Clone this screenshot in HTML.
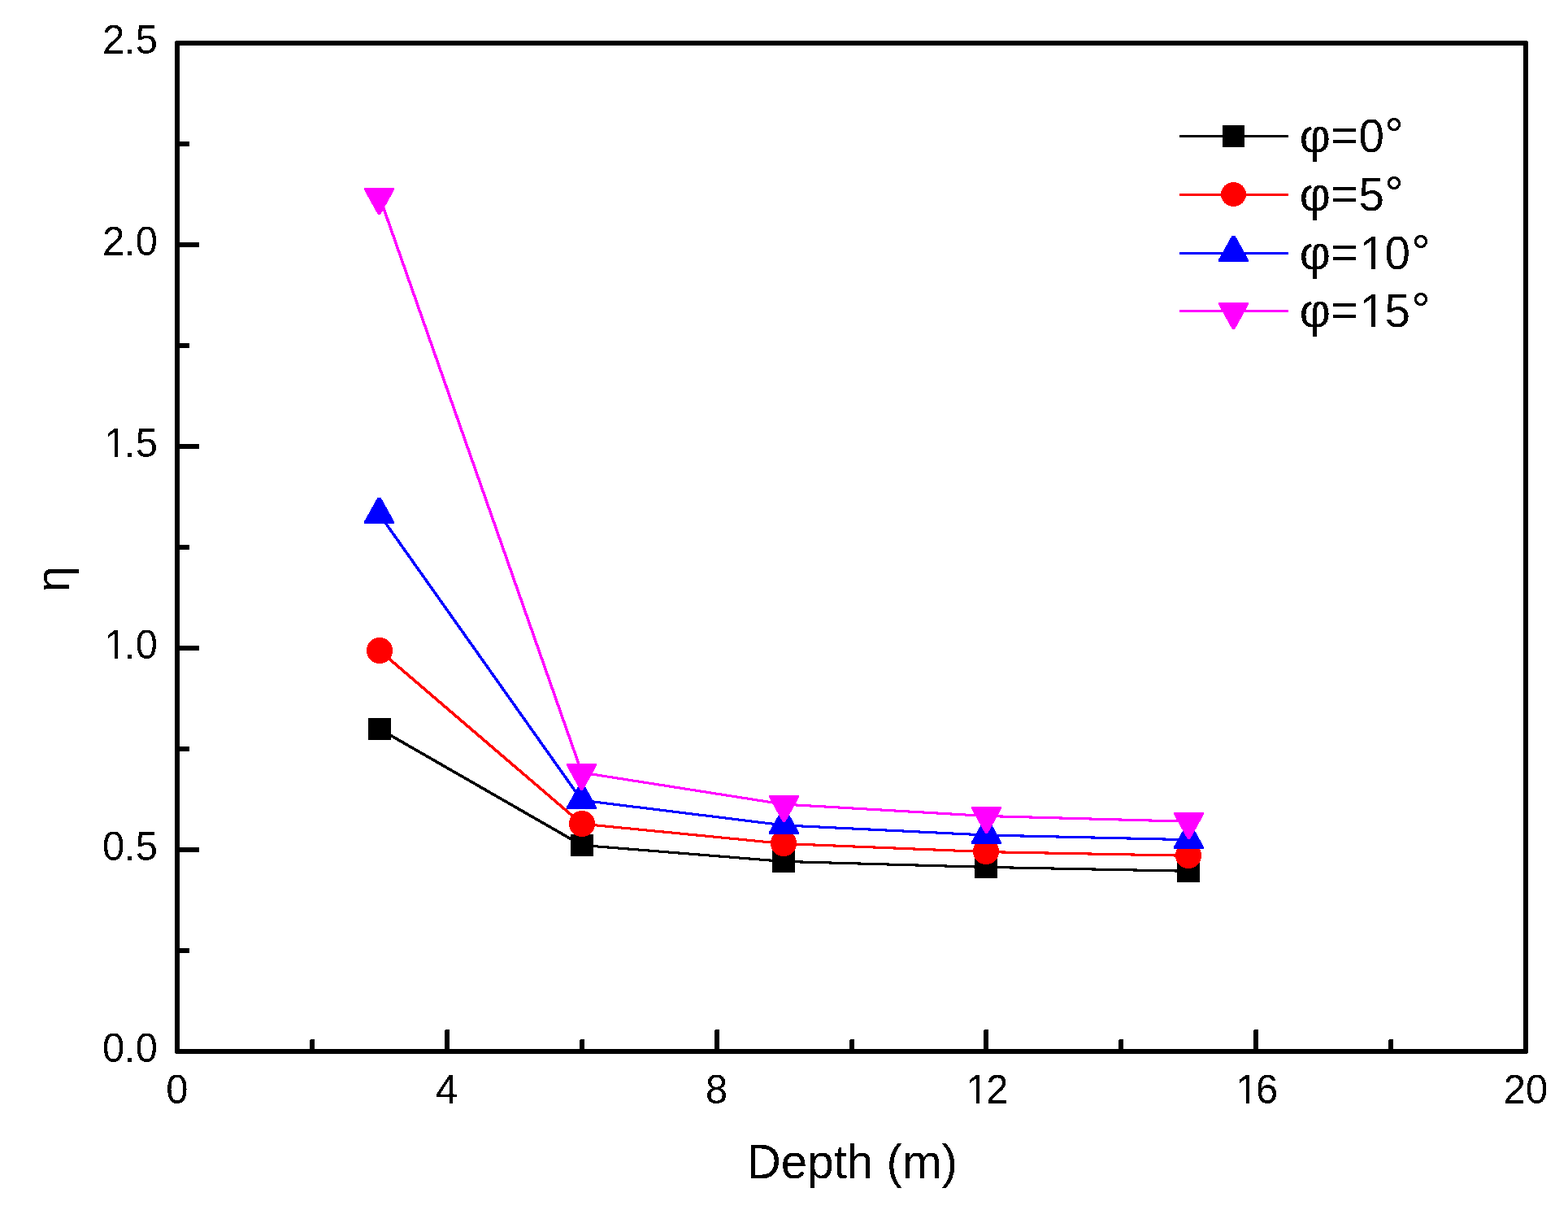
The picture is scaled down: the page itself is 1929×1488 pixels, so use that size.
<!DOCTYPE html>
<html lang="en">
<head>
<meta charset="utf-8">
<title>η versus Depth (m)</title>
<style>
html,body{margin:0;padding:0;background:#ffffff;}
body{width:1929px;height:1488px;overflow:hidden;}
svg{display:block;}
text{font-family:"Liberation Sans",Arial,Helvetica,sans-serif;fill:#000000;}
.tick{font-size:48.9px;}
.title{font-size:58.3px;}
</style>
</head>
<body>
<svg width="1929" height="1488" viewBox="0 0 1929 1488" shape-rendering="crispEdges">
<defs>
<filter id="px" x="-5%" y="-5%" width="110%" height="110%" color-interpolation-filters="sRGB">
<feComponentTransfer><feFuncA type="discrete" tableValues="0 1"/></feComponentTransfer>
</filter>
</defs>
<rect x="0" y="0" width="1929" height="1488" fill="#ffffff"/>
<!-- axes frame -->
<rect x="218.0" y="53.0" width="1659.0" height="1240.0" fill="none" stroke="#000000" stroke-width="6" stroke-linejoin="miter"/>
<g fill="#ffffff"><rect x="215" y="50" width="1" height="1"/><rect x="1879" y="50" width="1" height="1"/><rect x="215" y="1295" width="1" height="1"/><rect x="1879" y="1295" width="1" height="1"/></g>
<!-- tick marks -->
<g fill="#000000">
<polygon points="381,1293.0 381,1279 382,1278 386,1278 387,1279 387,1293.0"/>
<polygon points="547,1293.0 547,1267 548,1266 552,1266 553,1267 553,1293.0"/>
<polygon points="713,1293.0 713,1279 714,1278 718,1278 719,1279 719,1293.0"/>
<polygon points="879,1293.0 879,1267 880,1266 884,1266 885,1267 885,1293.0"/>
<polygon points="1045,1293.0 1045,1279 1046,1278 1050,1278 1051,1279 1051,1293.0"/>
<polygon points="1210,1293.0 1210,1267 1211,1266 1215,1266 1216,1267 1216,1293.0"/>
<polygon points="1376,1293.0 1376,1279 1377,1278 1381,1278 1382,1279 1382,1293.0"/>
<polygon points="1542,1293.0 1542,1267 1543,1266 1547,1266 1548,1267 1548,1293.0"/>
<polygon points="1708,1293.0 1708,1279 1709,1278 1713,1278 1714,1279 1714,1293.0"/>
<polygon points="218.0,1166 232,1166 233,1167 233,1171 232,1172 218.0,1172"/>
<polygon points="218.0,1042 244,1042 245,1043 245,1047 244,1048 218.0,1048"/>
<polygon points="218.0,918 232,918 233,919 233,923 232,924 218.0,924"/>
<polygon points="218.0,794 244,794 245,795 245,799 244,800 218.0,800"/>
<polygon points="218.0,670 232,670 233,671 233,675 232,676 218.0,676"/>
<polygon points="218.0,546 244,546 245,547 245,551 244,552 218.0,552"/>
<polygon points="218.0,422 232,422 233,423 233,427 232,428 218.0,428"/>
<polygon points="218.0,298 244,298 245,299 245,303 244,304 218.0,304"/>
<polygon points="218.0,174 232,174 233,175 233,179 232,180 218.0,180"/>
</g>
<!-- x tick labels -->
<g class="tick" filter="url(#px)">
<text transform="translate(204.3,1357) scale(1,1.04)" x="0">0</text>
<text transform="translate(536.1,1357) scale(1,1.04)" x="0">4</text>
<text transform="translate(867.9,1357) scale(1,1.04)" x="0">8</text>
<text transform="translate(1188.5,1357) scale(1,1.04)" x="0 24.8">12</text>
<text transform="translate(1520.3,1357) scale(1,1.04)" x="0 24.8">16</text>
<text transform="translate(1849.7,1357) scale(1,1.04)" x="0 27.2">20</text>
</g>
<!-- y tick labels -->
<g class="tick" filter="url(#px)">
<text transform="translate(126.02,1305.7) scale(1,1.04)" x="0 26.6 40.78">0.0</text>
<text transform="translate(126.02,1057.7) scale(1,1.04)" x="0 26.6 40.78">0.5</text>
<text transform="translate(128.42,809.7) scale(1,1.04)" x="0 24.2 38.38">1.0</text>
<text transform="translate(128.42,561.7) scale(1,1.04)" x="0 24.2 38.38">1.5</text>
<text transform="translate(126.02,313.7) scale(1,1.04)" x="0 26.6 40.78">2.0</text>
<text transform="translate(126.02,65.7) scale(1,1.04)" x="0 26.6 40.78">2.5</text>
</g>
<!-- axis titles -->
<g filter="url(#px)">
<text class="title" text-anchor="middle" x="1048.3" y="1448.7">Depth (m)</text>
<text class="title" text-anchor="middle" transform="translate(85,712) rotate(-90) scale(0.98,1.02)">η</text>
</g>
<!-- data series -->
<line x1="466.9" y1="896.5" x2="715.7" y2="1039.4" stroke="#000000" stroke-width="3.5" stroke-linecap="round"/>
<polyline points="715.7,1039.4 964.4,1059.4 1213.3,1066.4 1462.2,1071.3" fill="none" stroke="#000000" stroke-width="3.1" stroke-linejoin="round" stroke-linecap="round"/>
<rect x="453" y="883" width="28" height="27" fill="#000000"/>
<rect x="702" y="1026" width="28" height="27" fill="#000000"/>
<rect x="950" y="1046" width="28" height="27" fill="#000000"/>
<rect x="1199" y="1053" width="28" height="27" fill="#000000"/>
<rect x="1448" y="1058" width="28" height="27" fill="#000000"/>
<line x1="466.9" y1="800" x2="715.7" y2="1013.2" stroke="#ff0000" stroke-width="3.5" stroke-linecap="round"/>
<polyline points="715.7,1013.2 964.4,1037.5 1213.3,1047.6 1462.2,1052.3" fill="none" stroke="#ff0000" stroke-width="3.1" stroke-linejoin="round" stroke-linecap="round"/>
<circle cx="467" cy="800" r="16" fill="#ff0000"/>
<circle cx="716" cy="1013" r="16" fill="#ff0000"/>
<circle cx="964" cy="1037" r="16" fill="#ff0000"/>
<circle cx="1213" cy="1047" r="16" fill="#ff0000"/>
<circle cx="1462" cy="1052" r="16" fill="#ff0000"/>
<line x1="466.9" y1="632.7" x2="715.7" y2="984.2" stroke="#0000ff" stroke-width="3.5" stroke-linecap="round"/>
<polyline points="715.7,984.2 964.4,1014.9 1213.3,1027 1462.2,1032.7" fill="none" stroke="#0000ff" stroke-width="3.1" stroke-linejoin="round" stroke-linecap="round"/>
<polygon points="464.7,611.5 468.3,611.5 485,641.4 485,644 448,644 448,641.4" fill="#0000ff"/>
<polygon points="713.7,962.5 717.3,962.5 734,992.4 734,995 697,995 697,992.4" fill="#0000ff"/>
<polygon points="962.7,993.5 966.3,993.5 983,1023.4 983,1026 946,1026 946,1023.4" fill="#0000ff"/>
<polygon points="1211.7,1005.5 1215.3,1005.5 1232,1035.4 1232,1038 1195,1038 1195,1035.4" fill="#0000ff"/>
<polygon points="1460.7,1011.5 1464.3,1011.5 1481,1041.4 1481,1044 1444,1044 1444,1041.4" fill="#0000ff"/>
<line x1="466.9" y1="241.7" x2="715.7" y2="950.1" stroke="#ff00ff" stroke-width="3.5" stroke-linecap="round"/>
<polyline points="715.7,950.1 964.4,989.1 1213.3,1003.5 1462.2,1010.3" fill="none" stroke="#ff00ff" stroke-width="3.1" stroke-linejoin="round" stroke-linecap="round"/>
<polygon points="448,231 485,231 485,233.6 468.3,263.5 464.7,263.5 448,233.6" fill="#ff00ff"/>
<polygon points="697,939 734,939 734,941.6 717.3,971.5 713.7,971.5 697,941.6" fill="#ff00ff"/>
<polygon points="946,978 983,978 983,980.6 966.3,1010.5 962.7,1010.5 946,980.6" fill="#ff00ff"/>
<polygon points="1195,992 1232,992 1232,994.6 1215.3,1024.5 1211.7,1024.5 1195,994.6" fill="#ff00ff"/>
<polygon points="1444,999 1481,999 1481,1001.6 1464.3,1031.5 1460.7,1031.5 1444,1001.6" fill="#ff00ff"/>
<!-- legend -->
<line x1="1452.5" y1="167.5" x2="1583.5" y2="167.5" stroke="#000000" stroke-width="3" stroke-linecap="round"/>
<rect x="1504" y="154" width="27" height="27" fill="#000000"/>
<text filter="url(#px)"><tspan font-size="59.5" x="1598.4" y="187.3">φ</tspan><tspan font-size="56" x="1637.3" y="184.7" stroke="#000000" stroke-width="0.9">=</tspan><tspan font-size="56.5" x="1671.4" y="186.7">0</tspan><tspan font-size="57.5" x="1703.6" y="185.2">°</tspan></text>
<line x1="1452.5" y1="239.5" x2="1583.5" y2="239.5" stroke="#ff0000" stroke-width="3" stroke-linecap="round"/>
<ellipse cx="1517.5" cy="239" rx="15.5" ry="15" fill="#ff0000"/>
<text filter="url(#px)"><tspan font-size="59.5" x="1598.4" y="259.3">φ</tspan><tspan font-size="56" x="1637.3" y="256.7" stroke="#000000" stroke-width="0.9">=</tspan><tspan font-size="56.5" x="1671.4" y="258.7">5</tspan><tspan font-size="57.5" x="1703.6" y="257.2">°</tspan></text>
<line x1="1452.5" y1="311.5" x2="1583.5" y2="311.5" stroke="#0000ff" stroke-width="3" stroke-linecap="round"/>
<polygon points="1515.7,289.5 1519.3,289.5 1536,319.4 1536,322 1499,322 1499,319.4" fill="#0000ff"/>
<text filter="url(#px)"><tspan font-size="59.5" x="1598.4" y="331.3">φ</tspan><tspan font-size="56" x="1637.3" y="328.7" stroke="#000000" stroke-width="0.9">=</tspan><tspan font-size="56.5" x="1672.9 1703.6" y="330.7">10</tspan><tspan font-size="57.5" x="1736.4" y="329.2">°</tspan></text>
<line x1="1452.5" y1="382.5" x2="1583.5" y2="382.5" stroke="#ff00ff" stroke-width="3" stroke-linecap="round"/>
<polygon points="1499,372 1536,372 1536,374.6 1519.3,404.5 1515.7,404.5 1499,374.6" fill="#ff00ff"/>
<text filter="url(#px)"><tspan font-size="59.5" x="1598.4" y="402.3">φ</tspan><tspan font-size="56" x="1637.3" y="399.7" stroke="#000000" stroke-width="0.9">=</tspan><tspan font-size="56.5" x="1672.9 1703.6" y="401.7">15</tspan><tspan font-size="57.5" x="1736.4" y="400.2">°</tspan></text>
<!-- trim the foot serif of the digit 1 so it reads like the original face -->
<g fill="#ffffff">
<rect x="1190.23" y="1352.2" width="10.57" height="6"/>
<rect x="1205.12" y="1352.2" width="10.19" height="6"/>
<rect x="1522.03" y="1352.2" width="10.57" height="6"/>
<rect x="1536.92" y="1352.2" width="10.19" height="6"/>
<rect x="130.15" y="804.9" width="10.57" height="6"/>
<rect x="145.04" y="804.9" width="10.19" height="6"/>
<rect x="130.15" y="556.9" width="10.57" height="6"/>
<rect x="145.04" y="556.9" width="10.19" height="6"/>
<rect x="1675.2" y="325.48" width="11.9" height="6.42"/>
<rect x="1692.1" y="325.48" width="11.46" height="6.42"/>
<rect x="1675.2" y="396.48" width="11.9" height="6.42"/>
<rect x="1692.1" y="396.48" width="11.46" height="6.42"/>
</g>
</svg>
</body>
</html>
